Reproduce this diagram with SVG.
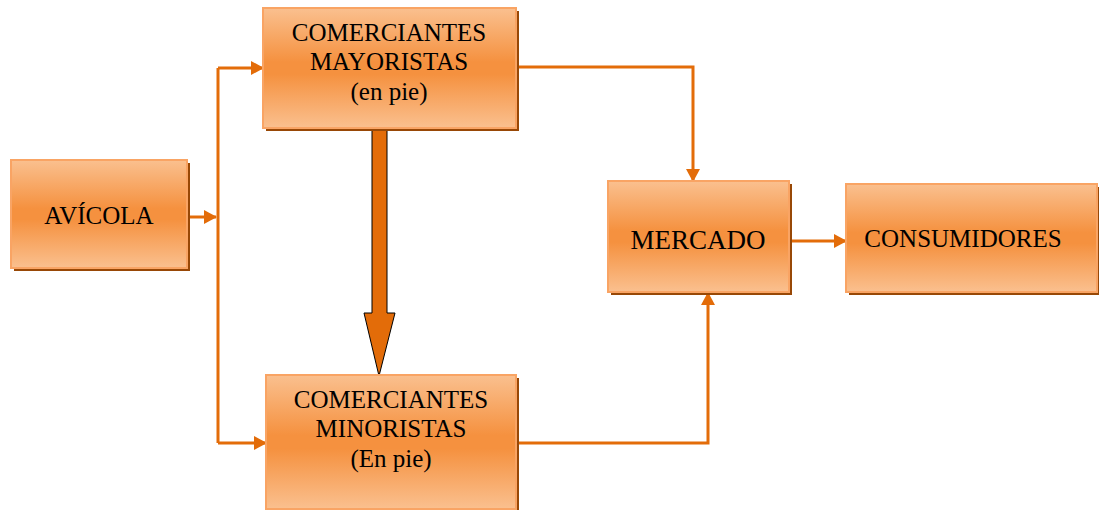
<svg xmlns="http://www.w3.org/2000/svg" width="1100" height="510" viewBox="0 0 1100 510">
<defs>
<linearGradient id="g" x1="0" y1="0" x2="0" y2="1">
<stop offset="0" stop-color="#FAC08F"/>
<stop offset="0.45" stop-color="#F5913F"/>
<stop offset="0.55" stop-color="#F5913F"/>
<stop offset="1" stop-color="#FAC08F"/>
</linearGradient>
<marker id="ah" viewBox="0 0 13 14" refX="12" refY="7" markerWidth="13" markerHeight="14" markerUnits="userSpaceOnUse" orient="auto">
<path d="M0,0 L13,7 L0,14 Z" fill="#E36C09"/>
</marker>
<style>
.box{fill:url(#g);stroke:#F9A464;stroke-width:2}
.sh{fill:#984806}
.t{font-family:"Liberation Serif","Times New Roman",serif;font-size:25px;fill:#000;text-anchor:middle}
.c{fill:none;stroke:#E36C09;stroke-width:3}
</style>
</defs>
<rect width="1100" height="510" fill="#fff"/>
<g id="connectors">
<path class="c" d="M187,217 L216,217" marker-end="url(#ah)"/>
<path class="c" d="M218,443 L218,68"/>
<path class="c" d="M218,68 L263,68" marker-end="url(#ah)"/>
<path class="c" d="M218,443 L266,443" marker-end="url(#ah)"/>
<path class="c" d="M516,67 L693,67 L693,181" marker-end="url(#ah)"/>
<path class="c" d="M516,443 L708,443 L708,293" marker-end="url(#ah)"/>
<path class="c" d="M789,241 L846,241" marker-end="url(#ah)"/>
<path d="M372,128 L387,128 L387,313 L395,313 L379,376 L364,313 L372,313 Z" fill="#E36C09" stroke="#000" stroke-width="1"/>
</g>
<g id="avicola">
<rect class="sh" x="14" y="163" width="176" height="108"/>
<rect class="box" x="11" y="160" width="176" height="108"/>
<text class="t" x="99" y="224">AVÍCOLA</text>
</g>
<g id="mayoristas">
<rect class="sh" x="266" y="11" width="253" height="120"/>
<rect class="box" x="263" y="8" width="253" height="120"/>
<text class="t" x="389" y="41">COMERCIANTES</text>
<text class="t" x="389" y="70">MAYORISTAS</text>
<text class="t" x="389" y="100">(en pie)</text>
</g>
<g id="minoristas">
<rect class="sh" x="269" y="378" width="250" height="134"/>
<rect class="box" x="266" y="375" width="250" height="134"/>
<text class="t" x="391" y="408">COMERCIANTES</text>
<text class="t" x="391" y="437">MINORISTAS</text>
<text class="t" x="391" y="467">(En pie)</text>
</g>
<g id="mercado">
<rect class="sh" x="611" y="184" width="181" height="111"/>
<rect class="box" x="608" y="181" width="181" height="111"/>
<text class="t" x="698" y="249" style="font-size:27px">MERCADO</text>
</g>
<g id="consumidores">
<rect class="sh" x="849" y="187" width="250" height="108"/>
<rect class="box" x="846" y="184" width="251" height="108"/>
<text class="t" x="963" y="247">CONSUMIDORES</text>
</g>
</svg>
